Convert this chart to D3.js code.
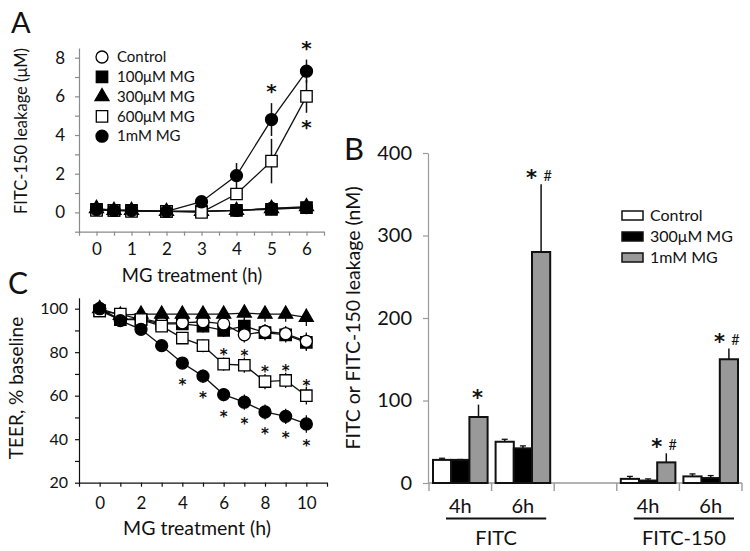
<!DOCTYPE html>
<html><head><meta charset="utf-8">
<script src="https://cdn.jsdelivr.net/npm/d3@7"></script>
<style>
body{margin:0;background:#fff}
text{font-family:Lato,"Open Sans",sans-serif;fill:#111}
text.star{font-family:"DejaVu Sans",sans-serif;font-weight:bold}
</style>
</head><body>
<svg id="chart" width="750" height="551"></svg>
<script>
// ---------------- DATA ----------------
// Panel A: FITC-150 leakage (µM) vs MG treatment (h)
const hoursA = [0, 0.5, 1, 2, 3, 4, 5, 6];
const aControl = [0.15, 0.1, 0.1, 0.05, 0.05, 0.1, 0.2, 0.25];
const aMG100   = [0.15, 0.1, 0.1, 0.05, 0.05, 0.1, 0.15, 0.25];
const aMG300   = [0.2, 0.1, 0.1, 0.05, 0.05, 0.1, 0.2, 0.3];
const aMG600   = [0.1, 0.1, 0.05, 0.05, 0.0, 0.95, 2.65, 6.0];
const aMG1000  = [0.15, 0.1, 0.1, 0.05, 0.55, 1.9, 4.8, 7.3];
const aErr600  = [0, 0, 0, 0, 0.1, 0.3, 1.15, 0.85];
const aErr1000 = [0, 0, 0, 0, 0.1, 0.65, 0.85, 0.6];
const aLegend  = ["Control", "100\u03bcM MG", "300\u03bcM MG", "600\u03bcM MG", "1mM MG"];
const aXTicks  = [0, 1, 2, 3, 4, 5, 6];
const aYTicks  = [0, 2, 4, 6, 8];
// stars: [series index, hour, side]
const aStars = [[4, 5, "above"], [4, 6, "above"], [3, 6, "below"]];

// Panel C: TEER, % baseline vs MG treatment (h)
const hoursC = [0, 1, 2, 3, 4, 5, 6, 7, 8, 9, 10];
const cControl = [100, 95, 95.5, 93.5, 93.5, 94, 93, 88, 89.5, 88.5, 85];
const cMG100   = [99, 95, 95, 93, 93, 92, 90, 92, 89, 88, 84.5];
const cMG300   = [100, 97, 97.5, 97.5, 97.5, 97.5, 97.5, 98, 97.5, 97.5, 96];
const cMG600   = [99, 97.5, 95, 92, 86.5, 83, 74.5, 74, 66.5, 67, 60];
const cMG1000  = [100, 94.5, 90.5, 83, 75, 69, 60.5, 57, 52.5, 50.5, 47];
const cErr     = [0, 1, 1.5, 2, 2.5, 3, 3, 3.5, 3.5, 3.5, 4];
const cXTicks  = [0, 2, 4, 6, 8, 10];
const cYTicks  = [20, 40, 60, 80, 100];
const cStars1000 = [4, 5, 6, 7, 8, 9, 10];
const cStars600  = [6, 7, 8, 9, 10];

// Panel B: FITC or FITC-150 leakage (nM)
const bSlots   = ["FITC 4h", "FITC 6h", "gap", "FITC-150 4h", "FITC-150 6h"];
const bSeries  = ["Control", "300\u03bcM MG", "1mM MG"];
const bValues  = { // per slot: [control, 300uM, 1mM]
  "FITC 4h": [28, 28, 80],
  "FITC 6h": [50, 42, 280],
  "FITC-150 4h": [5, 3, 25],
  "FITC-150 6h": [8, 6, 150]
};
const bErrors  = {
  "FITC 4h": [2, 0.5, 15],
  "FITC 6h": [3, 3, 82],
  "FITC-150 4h": [3, 2, 11],
  "FITC-150 6h": [3, 3, 13]
};
const bMarks   = {"FITC 4h": "*", "FITC 6h": "*#", "FITC-150 4h": "*#", "FITC-150 6h": "*#"};
const bYTicks  = [0, 100, 200, 300, 400];
const bGroups  = [{label: "FITC", slots: ["FITC 4h", "FITC 6h"]}, {label: "FITC-150", slots: ["FITC-150 4h", "FITC-150 6h"]}];
const bSlotLabels = {"FITC 4h": "4h", "FITC 6h": "6h", "FITC-150 4h": "4h", "FITC-150 6h": "6h"};

// ---------------- DRAW ----------------
const svg = d3.select("#chart");
svg.append("rect").attr("width", 750).attr("height", 551).attr("fill", "#fff");

const symCircle = d3.symbol().type(d3.symbolCircle).size(113);
const symSquare = d3.symbol().type(d3.symbolSquare).size(130);
const symTri = d3.symbol().type(d3.symbolTriangle).size(85);
const seriesStyle = [
  {sym: symCircle, fill: "#fff"},
  {sym: symSquare, fill: "#000"},
  {sym: symTri, fill: "#000"},
  {sym: symSquare, fill: "#fff"},
  {sym: symCircle, fill: "#000"}
];

function styleAxis(g, color, fs) {
  g.select(".domain").attr("stroke", color).attr("stroke-width", 1.2);
  g.selectAll(".tick line").attr("stroke", color).attr("stroke-width", 1.2);
  g.selectAll(".tick text").attr("font-size", fs).attr("fill", "#111").style("font-family", "Lato");
}
function star(g, x, yc, fs) {
  g.append("text").attr("class", "star").attr("x", x).attr("y", yc + 0.6 * fs)
    .attr("text-anchor", "middle").attr("font-size", fs).text("*");
}

// ===== Panel A =====
const xA = d3.scaleLinear().domain([-0.5, 6.5]).range([79, 324]);
const yA = d3.scaleLinear().domain([-1, 8.5]).range([231.7, 48]);
const gA = svg.append("g");
gA.append("g").attr("transform", `translate(0,${yA(-1)})`)
  .call(d3.axisBottom(xA).tickValues(d3.range(-0.5, 6.51, 0.5)).tickSize(4).tickPadding(7).tickSizeOuter(0)
    .tickFormat(d => aXTicks.includes(d) ? d : ""))
  .call(g => styleAxis(g, "#8a8a8a", 17));
gA.append("g").attr("transform", `translate(${xA(-0.5)},0)`)
  .call(d3.axisLeft(yA).tickValues(d3.range(-1, 8.01, 1)).tickSize(4).tickPadding(10).tickSizeOuter(0)
    .tickFormat(d => aYTicks.includes(d) ? d : ""))
  .call(g => styleAxis(g, "#8a8a8a", 17));

const aData = [aControl, aMG100, aMG300, aMG600, aMG1000];
const aErrs = [null, null, null, aErr600, aErr1000];
const lineA = d3.line().x(d => xA(d[0])).y(d => yA(d[1]));
aData.forEach((vals, i) => {
  const pts = hoursA.map((h, j) => [h, vals[j]]);
  gA.append("path").datum(pts).attr("d", lineA).attr("fill", "none").attr("stroke", "#111").attr("stroke-width", 1.3);
});
aData.forEach((vals, i) => {
  if (aErrs[i]) {
    hoursA.forEach((h, j) => {
      const e = aErrs[i][j];
      if (e > 0) gA.append("line").attr("x1", xA(h)).attr("x2", xA(h))
        .attr("y1", yA(vals[j] - e)).attr("y2", yA(vals[j] + e)).attr("stroke", "#111").attr("stroke-width", 1.5);
    });
  }
});
aData.forEach((vals, i) => {
  gA.append("g").selectAll("path").data(hoursA.map((h, j) => [h, vals[j]])).join("path")
    .attr("d", seriesStyle[i].sym).attr("transform", d => `translate(${xA(d[0])},${yA(d[1])})`)
    .attr("fill", seriesStyle[i].fill).attr("stroke", "#000").attr("stroke-width", 1.3);
});
aStars.forEach(([si, h, side]) => {
  const j = hoursA.indexOf(h);
  const v = aData[si][j], e = aErrs[si] ? aErrs[si][j] : 0;
  const yc = side === "above" ? yA(v + e) - 17 : yA(v - e) + 9;
  star(gA, xA(h), yc, 20);
});
// legend A
aLegend.forEach((name, i) => {
  const ly = 57 + i * 19.8;
  gA.append("path").attr("d", seriesStyle[i].sym).attr("transform", `translate(102,${ly})`)
    .attr("fill", seriesStyle[i].fill).attr("stroke", "#000").attr("stroke-width", 1.3);
  gA.append("text").attr("x", 117).attr("y", ly).attr("dy", "0.35em").attr("font-size", 15).text(name);
});
gA.append("text").attr("transform", "translate(21,131) rotate(-90)").attr("text-anchor", "middle")
  .attr("dy", "0.35em").attr("font-size", 16.5).text("FITC-150 leakage (\u03bcM)");
gA.append("text").attr("x", 192).attr("y", 282).attr("text-anchor", "middle").attr("font-size", 18.5).text("MG treatment (h)");
svg.append("text").attr("x", 11).attr("y", 33).attr("font-size", 29).text("A");

// ===== Panel C =====
const xC = d3.scaleLinear().domain([-1, 11]).range([79, 327]);
const yC = d3.scaleLinear().domain([20, 105]).range([482.7, 297.8]);
const gC = svg.append("g");
gC.append("g").attr("transform", `translate(0,${yC(20)})`)
  .call(d3.axisBottom(xC).tickValues(d3.range(-1, 11.01, 1)).tickSize(4).tickPadding(10).tickSizeOuter(0)
    .tickFormat(d => cXTicks.includes(d) ? d : ""))
  .call(g => styleAxis(g, "#111", 17));
gC.append("g").attr("transform", `translate(${xC(-1)},0)`)
  .call(d3.axisLeft(yC).tickValues(d3.range(20, 100.1, 10)).tickSize(4).tickPadding(7).tickSizeOuter(0)
    .tickFormat(d => cYTicks.includes(d) ? d : ""))
  .call(g => styleAxis(g, "#111", 16));

// draw order: 100uM first so control circles sit on top
const cData = [cControl, cMG100, cMG300, cMG600, cMG1000];
const cOrder = [1, 0, 2, 3, 4];
const lineC = d3.line().x(d => xC(d[0])).y(d => yC(d[1]));
cOrder.forEach((i) => {
  const vals = cData[i];
  gC.append("path").datum(hoursC.map((h, j) => [h, vals[j]])).attr("d", lineC)
    .attr("fill", "none").attr("stroke", "#111").attr("stroke-width", 1.3);
});
cOrder.forEach((i) => {
  const vals = cData[i];
  hoursC.forEach((h, j) => {
    const e = cErr[j];
    if (e > 0) gC.append("line").attr("x1", xC(h)).attr("x2", xC(h))
      .attr("y1", yC(vals[j] - e)).attr("y2", yC(vals[j] + e)).attr("stroke", "#111").attr("stroke-width", 1.3);
  });
});
cOrder.forEach((i) => {
  const vals = cData[i];
  gC.append("g").selectAll("path").data(hoursC.map((h, j) => [h, vals[j]])).join("path")
    .attr("d", seriesStyle[i].sym).attr("transform", d => `translate(${xC(d[0])},${yC(d[1])})`)
    .attr("fill", seriesStyle[i].fill).attr("stroke", "#000").attr("stroke-width", 1.3);
});
cStars1000.forEach(h => {
  const v = cMG1000[hoursC.indexOf(h)];
  star(gC, xC(h), yC(v) + 18, 15);
});
cStars600.forEach(h => {
  const v = cMG600[hoursC.indexOf(h)];
  star(gC, xC(h), yC(v) - 13.5, 15);
});
gC.append("text").attr("transform", "translate(16,388) rotate(-90)").attr("text-anchor", "middle")
  .attr("dy", "0.35em").attr("font-size", 19).text("TEER, % baseline");
gC.append("text").attr("x", 197).attr("y", 535).attr("text-anchor", "middle").attr("font-size", 19.5).text("MG treatment (h)");
svg.append("text").attr("x", 8).attr("y", 294).attr("font-size", 30).text("C");

// ===== Panel B =====
const xB = d3.scaleBand().domain(bSlots).range([429, 742]).padding(0);
const xSub = d3.scaleBand().domain(bSeries).range([4, xB.bandwidth() - 4]).padding(0);
const yB = d3.scaleLinear().domain([0, 400]).range([483, 153]);
const gB = svg.append("g");
const bColors = ["#fff", "#000", "#999"];

gB.append("g").attr("transform", `translate(428,0)`)
  .call(d3.axisLeft(yB).tickValues(bYTicks).tickSize(5).tickPadding(11).tickSizeOuter(0))
  .call(g => styleAxis(g, "#9a9a9a", 20));
// x axis baseline + slot-boundary ticks
const bBounds = bSlots.map(s => xB(s)).concat([xB(bSlots[bSlots.length - 1]) + xB.bandwidth()]);
gB.append("line").attr("x1", 428).attr("x2", bBounds[bBounds.length - 1]).attr("y1", yB(0)).attr("y2", yB(0))
  .attr("stroke", "#9a9a9a").attr("stroke-width", 1.4);
gB.selectAll(".bt").data(bBounds).join("line").attr("x1", d => d).attr("x2", d => d)
  .attr("y1", yB(0)).attr("y2", yB(0) + 8).attr("stroke", "#9a9a9a").attr("stroke-width", 1.4);

Object.keys(bValues).forEach(slot => {
  bSeries.forEach((s, i) => {
    const v = bValues[slot][i], e = bErrors[slot][i];
    const x0 = xB(slot) + xSub(s), w = xSub.bandwidth();
    const cx = x0 + w / 2;
    gB.append("line").attr("x1", cx).attr("x2", cx).attr("y1", yB(v)).attr("y2", yB(v + e))
      .attr("stroke", "#111").attr("stroke-width", 1.5);
    if (i < 2) gB.append("line").attr("x1", cx - 3).attr("x2", cx + 3).attr("y1", yB(v + e)).attr("y2", yB(v + e))
      .attr("stroke", "#111").attr("stroke-width", 1.3);
    gB.append("rect").attr("x", x0).attr("y", yB(v)).attr("width", w).attr("height", yB(0) - yB(v))
      .attr("fill", bColors[i]).attr("stroke", "#111").attr("stroke-width", 2);
  });
  const gx = xB(slot) + xSub(bSeries[2]) + xSub.bandwidth() / 2;
  const top = yB(bValues[slot][2] + bErrors[slot][2]) - 12;
  const m = bMarks[slot];
  if (m === "*") {
    star(gB, gx - 1, top, 21);
  } else {
    star(gB, gx - 9.5, top, 21);
    gB.append("text").attr("x", gx + 6.5).attr("y", top + 8.5).attr("text-anchor", "middle").attr("font-size", 14.5).text("#");
  }
  gB.append("text").attr("x", xB(slot) + xB.bandwidth() / 2).attr("y", 513).attr("text-anchor", "middle")
    .attr("font-size", 20).text(bSlotLabels[slot]);
});
bGroups.forEach(gr => {
  const x1 = xB(gr.slots[0]) + 17, x2 = xB(gr.slots[1]) + xB.bandwidth() - 8;
  gB.append("line").attr("x1", x1).attr("x2", x2).attr("y1", 518.5).attr("y2", 518.5).attr("stroke", "#111").attr("stroke-width", 2);
  gB.append("text").attr("x", (x1 + x2) / 2).attr("y", 545).attr("text-anchor", "middle").attr("font-size", 20).text(gr.label);
});
// legend B
bSeries.forEach((s, i) => {
  const ly = 215.5 + i * 21;
  gB.append("rect").attr("x", 622).attr("y", ly - 4.5).attr("width", 21).attr("height", 9)
    .attr("fill", bColors[i]).attr("stroke", "#111").attr("stroke-width", 1.5);
  gB.append("text").attr("x", 650).attr("y", ly).attr("dy", "0.35em").attr("font-size", 16).text(s);
});
gB.append("text").attr("transform", "translate(353,318) rotate(-90)").attr("text-anchor", "middle")
  .attr("dy", "0.35em").attr("font-size", 19.5).text("FITC or FITC-150 leakage (nM)");
svg.append("text").attr("x", 344).attr("y", 160).attr("font-size", 31).text("B");
</script>
</body></html>
